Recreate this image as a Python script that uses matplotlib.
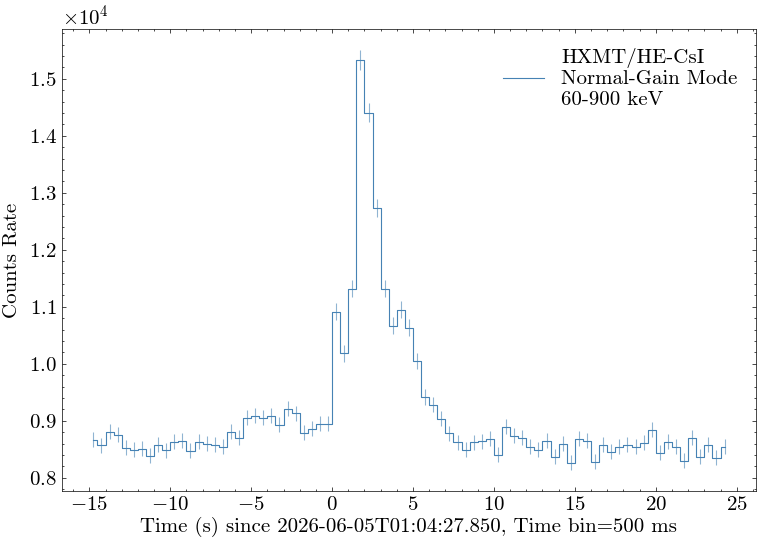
import numpy as np
import matplotlib
matplotlib.use("Agg")
import matplotlib.pyplot as plt
from matplotlib.ticker import MultipleLocator

bin_size = 0.5
time_centers = np.arange(-14.75, 24.26, 0.5)
rates = [
    8667, 8567, 8807, 8754, 8526, 8491, 8509, 8386, 8579, 8480,
    8632, 8649, 8474, 8632, 8596, 8579, 8544, 8807, 8702, 9053,
    9088, 9053, 9088, 8930, 9211, 9129, 8789, 8860, 8947, 8947,
    10912, 10181, 11316, 15333, 14404, 12737, 11316, 10667, 10947, 10632,
    10053, 9421, 9281,
    9035, 8778, 8620, 8491, 8620, 8638, 8684, 8404, 8895, 8737,
    8702, 8544, 8491, 8649, 8369, 8597, 8263, 8684, 8649, 8281,
    8579, 8456, 8544, 8579, 8544, 8614, 8842, 8439, 8632, 8544,
    8298, 8702, 8369, 8579, 8351, 8544,
]
rates = np.array(rates, dtype=float)
# Poisson errors on the rate
errors = np.sqrt(rates * bin_size) / bin_size

plt.rcParams.update({
    "font.family": "serif",
    "font.serif": ["cmr10"],
    "mathtext.fontset": "cm",
    "axes.formatter.use_mathtext": True,
    "axes.unicode_minus": True,
    "font.size": 15,
    "xtick.direction": "in",
    "ytick.direction": "in",
    "xtick.top": True,
    "ytick.right": True,
    "xtick.minor.visible": True,
    "ytick.minor.visible": True,
    "xtick.major.size": 3,
    "ytick.major.size": 3,
    "xtick.minor.size": 1.5,
    "ytick.minor.size": 1.5,
    "xtick.major.width": 0.5,
    "ytick.major.width": 0.5,
    "xtick.minor.width": 0.5,
    "ytick.minor.width": 0.5,
    "axes.linewidth": 0.5,
})

fig = plt.figure(figsize=(7.63, 5.45), dpi=100)
ax = fig.add_axes([0.081, 0.099, 0.91, 0.848])

color = "#4682B4"
ax.step(time_centers, rates, where="mid", color=color, lw=0.8,
        label="HXMT/HE-CsI\nNormal-Gain Mode\n60-900 keV")
ax.errorbar(time_centers, rates, yerr=errors, fmt="none", ecolor=color,
            alpha=0.6, elinewidth=0.8)

ax.xaxis.set_major_locator(MultipleLocator(5))
ax.xaxis.set_minor_locator(MultipleLocator(1))
ax.yaxis.set_major_locator(MultipleLocator(1000))
ax.yaxis.set_minor_locator(MultipleLocator(200))
ax.ticklabel_format(axis="y", style="sci", scilimits=(0, 0), useMathText=True)

ax.set_xlabel("Time (s) since 2026-06-05T01:04:27.850, Time bin=500 ms", labelpad=2)
ax.set_ylabel("Counts Rate", labelpad=6)
ax.legend(loc="upper right", frameon=False, fontsize=15)

fig.savefig("out.png", dpi=100)
